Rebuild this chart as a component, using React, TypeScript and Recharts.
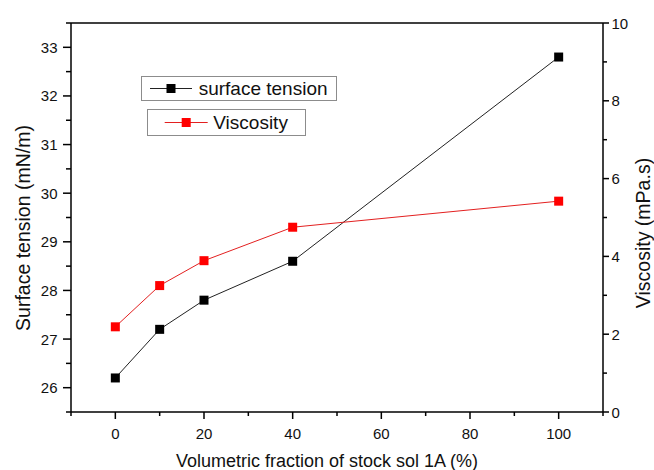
import React from 'react';
import { ComposedChart, Line, XAxis, YAxis, ReferenceLine, Legend } from 'recharts';

// ---- data ----
const fractions = [0, 10, 20, 40, 100];
const surfaceTension = [26.2, 27.2, 27.8, 28.6, 32.8];
const viscosity = [2.19, 3.25, 3.89, 4.75, 5.42];

const seriesNames = ['surface tension', 'Viscosity'];
const seriesColors = ['#000000', '#ff0000'];
const lineColors = ['#222222', '#e32020'];

const xTicks = [-10, 0, 10, 20, 30, 40, 50, 60, 70, 80, 90, 100, 110];
const xMajor = [0, 20, 40, 60, 80, 100];
const leftTicks = [25.5, 26, 26.5, 27, 27.5, 28, 28.5, 29, 29.5, 30, 30.5, 31, 31.5, 32, 32.5, 33, 33.5];
const leftMajor = [26, 27, 28, 29, 30, 31, 32, 33];
const rightTicks = [0, 1, 2, 3, 4, 5, 6, 7, 8, 9, 10];
const rightMajor = [0, 2, 4, 6, 8, 10];

const xTitle = 'Volumetric fraction of stock sol 1A (%)';
const leftTitle = 'Surface tension (mN/m)';
const rightTitle = 'Viscosity (mPa.s)';

const data = fractions.map((x, i) => ({ x, st: surfaceTension[i], visc: viscosity[i] }));

const FONT = '"Liberation Sans", Arial, sans-serif';
const AX = '#000';

const BottomTick = (props: any) => {
  const { x, y, payload } = props;
  const major = xMajor.includes(payload.value);
  return (
    <g>
      <line x1={x} x2={x} y1={y - 7} y2={major ? y : y - 3} stroke={AX} strokeWidth={1.5} />
      {major && (
        <text x={x} y={y + 14} textAnchor="middle" dominantBaseline="central" fontSize={15} fill="#111" fontFamily={FONT}>
          {payload.value}
        </text>
      )}
    </g>
  );
};

const LeftTick = (props: any) => {
  const { x, y, payload } = props;
  const major = leftMajor.includes(payload.value);
  return (
    <g>
      <line x1={major ? x : x + 3} x2={x + 8} y1={y} y2={y} stroke={AX} strokeWidth={1.5} />
      {major && (
        <text x={x - 5.5} y={y} textAnchor="end" dominantBaseline="central" fontSize={15} fill="#111" fontFamily={FONT}>
          {payload.value}
        </text>
      )}
    </g>
  );
};

const RightTick = (props: any) => {
  const { x, y, payload } = props;
  const major = rightMajor.includes(payload.value);
  return (
    <g>
      <line x1={x - 6} x2={major ? x : x - 2} y1={y} y2={y} stroke={AX} strokeWidth={1.5} />
      {major && (
        <text x={x + 2.5} y={y} textAnchor="start" dominantBaseline="central" fontSize={15} fill="#111" fontFamily={FONT}>
          {payload.value}
        </text>
      )}
    </g>
  );
};

const LeftTitle = (props: any) => {
  const vb = props.viewBox;
  const cx = vb.x + 23;
  const cy = vb.y + vb.height / 2 + 10.5;
  return (
    <text x={cx} y={cy} transform={`rotate(-90 ${cx} ${cy})`} textAnchor="middle" dominantBaseline="central" fontSize={19.5} fill="#111" fontFamily={FONT}>
      {leftTitle}
    </text>
  );
};

const RightTitle = (props: any) => {
  const vb = props.viewBox;
  const cx = vb.x + 40;
  const cy = vb.y + vb.height / 2 + 15.5;
  return (
    <text x={cx} y={cy} transform={`rotate(-90 ${cx} ${cy})`} textAnchor="middle" dominantBaseline="central" fontSize={19.5} fill="#111" fontFamily={FONT}>
      {rightTitle}
    </text>
  );
};

const XTitle = (props: any) => {
  const vb = props.viewBox;
  return (
    <text x={vb.x + 256} y={vb.y + 55} textAnchor="middle" fontSize={18} fill="#111" fontFamily={FONT}>
      {xTitle}
    </text>
  );
};

const squareDot = (color: string) => (props: any) => {
  const { cx, cy, index } = props;
  if (cx == null || cy == null) return <g key={index} />;
  return <rect key={index} x={cx - 4.5} y={cy - 4.5} width={9} height={9} fill={color} />;
};

const legendBoxes = [
  { left: 0, top: 0, width: 196, height: 25, lineX1: 9, lineX2: 51, textX: 58 },
  { left: 6.6, top: 33.6, width: 159, height: 27, lineX1: 17.7, lineX2: 60.7, textX: 66 },
];

const LegendContent = () => (
  <div style={{ position: 'relative', width: 200, height: 65 }}>
    {seriesNames.map((name, i) => {
      const b = legendBoxes[i];
      const mid = (b.lineX1 + b.lineX2) / 2;
      return (
        <div
          key={name}
          style={{
            position: 'absolute',
            left: b.left,
            top: b.top,
            width: b.width,
            height: b.height,
            border: '1px solid #8c8c8c',
            background: '#fff',
            boxSizing: 'border-box',
          }}
        >
          <svg width={b.width} height={b.height} style={{ position: 'absolute', left: -1, top: -1 }}>
            <line x1={b.lineX1} x2={b.lineX2} y1={b.height / 2} y2={b.height / 2} stroke={lineColors[i]} strokeWidth={1} />
            <rect x={mid - 4.5} y={b.height / 2 - 4.5} width={9} height={9} fill={seriesColors[i]} />
          </svg>
          <span
            style={{
              position: 'absolute',
              left: b.textX - 1,
              top: 0,
              lineHeight: `${b.height - 2}px`,
              fontSize: 19,
              fontFamily: FONT,
              color: '#111',
              whiteSpace: 'nowrap',
            }}
          >
            {name}
          </span>
        </div>
      );
    })}
  </div>
);

export default function App() {
  return (
    <div style={{ position: 'absolute', left: 0, top: 0, width: 654, height: 470, background: '#fff' }}>
      <ComposedChart width={654} height={470} data={data} margin={{ top: 23, right: 0, bottom: 0, left: 0 }}>
        <XAxis
          dataKey="x"
          type="number"
          domain={[-10, 110]}
          ticks={xTicks}
          interval={0}
          allowDataOverflow
          height={58}
          tickSize={7}
          tickMargin={0}
          tickLine={false}
          axisLine={{ stroke: AX, strokeWidth: 1.5 }}
          tick={<BottomTick />}
          label={<XTitle />}
        />
        <YAxis
          yAxisId="left"
          orientation="left"
          type="number"
          domain={[25.5, 33.5]}
          ticks={leftTicks}
          interval={0}
          allowDataOverflow
          width={71}
          tickSize={8}
          tickMargin={0}
          tickLine={false}
          axisLine={{ stroke: AX, strokeWidth: 1.5 }}
          tick={<LeftTick />}
          label={<LeftTitle />}
        />
        <YAxis
          yAxisId="right"
          orientation="right"
          type="number"
          domain={[0, 10]}
          ticks={rightTicks}
          interval={0}
          allowDataOverflow
          width={51}
          tickSize={6}
          tickMargin={0}
          tickLine={false}
          axisLine={{ stroke: AX, strokeWidth: 1.5 }}
          tick={<RightTick />}
          label={<RightTitle />}
        />
        <ReferenceLine yAxisId="left" y={33.5} stroke={AX} strokeWidth={1.5} />
        <Legend
          verticalAlign="middle"
          align="center"
          layout="horizontal"
          content={<LegendContent />}
          wrapperStyle={{ left: 140.7, top: 75.7, width: 200, height: 65 }}
        />
        <Line
          yAxisId="left"
          dataKey="st"
          name={seriesNames[0]}
          stroke={lineColors[0]}
          strokeWidth={1}
          dot={squareDot(seriesColors[0])}
          activeDot={false}
          isAnimationActive={false}
        />
        <Line
          yAxisId="right"
          dataKey="visc"
          name={seriesNames[1]}
          stroke={lineColors[1]}
          strokeWidth={1}
          dot={squareDot(seriesColors[1])}
          activeDot={false}
          isAnimationActive={false}
        />
      </ComposedChart>
    </div>
  );
}
